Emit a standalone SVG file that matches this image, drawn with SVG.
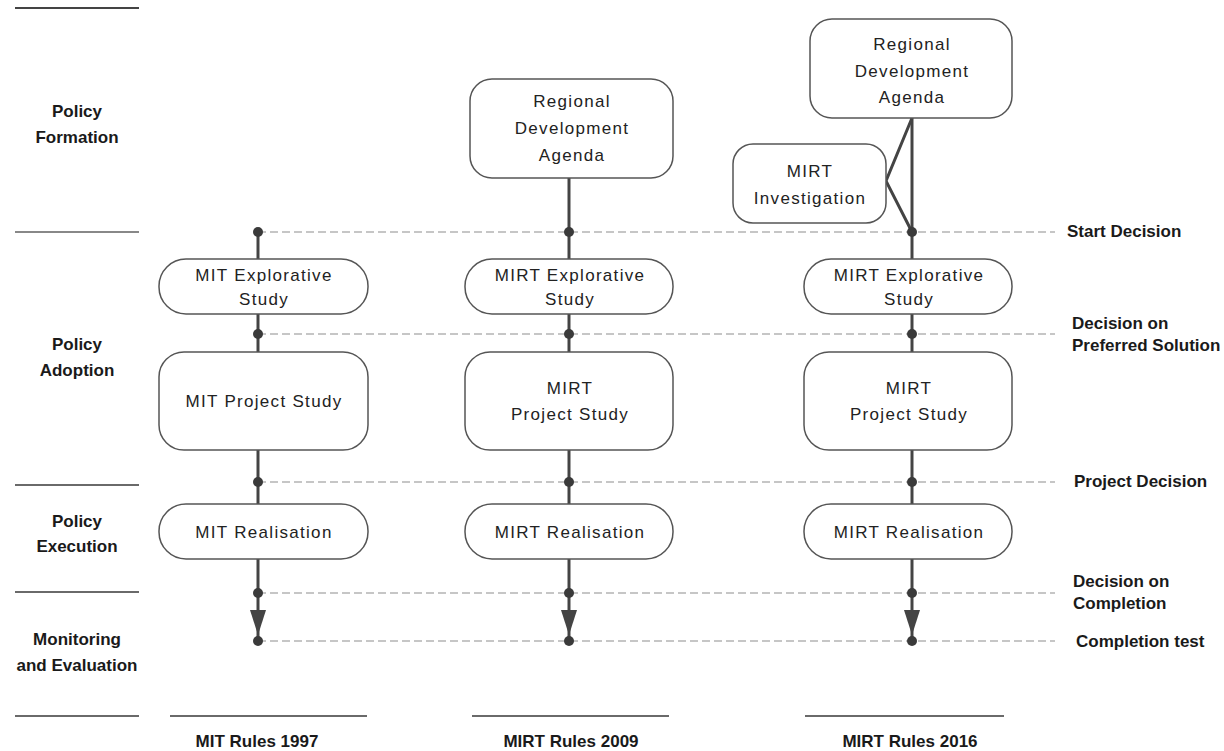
<svg xmlns="http://www.w3.org/2000/svg" width="1224" height="751" viewBox="0 0 1224 751">
<style>
.bg{fill:#fff}
.sep{stroke:#6a6a6a;stroke-width:2}
.dash{stroke:#b4b4b4;stroke-width:1.3;stroke-dasharray:8 4;fill:none}
.box{fill:#fff;stroke:#555;stroke-width:1.5}
.t{font-family:"Liberation Sans",Arial,sans-serif;font-size:17px;fill:#222;text-anchor:middle;letter-spacing:1.3px}
.b{font-family:"Liberation Sans",Arial,sans-serif;font-size:17px;font-weight:bold;fill:#1a1a1a}
.bc{text-anchor:middle}
.con{stroke:#444;stroke-width:3;fill:none}
.dot{fill:#3a3a3a}
</style>
<defs>
<marker id="arr" markerWidth="6" markerHeight="7" refX="5.5" refY="3.5" orient="auto" markerUnits="strokeWidth">
<path d="M0,0 L6,3.5 L0,7 Z" fill="#444"/>
</marker>
</defs>
<rect class="bg" x="0" y="0" width="1224" height="751"/>

<g id="lanes">
<line class="sep" x1="15" y1="8" x2="139" y2="8" style="stroke:#444"/>
<line class="sep" x1="15" y1="232" x2="139" y2="232" style="stroke:#888"/>
<line class="sep" x1="15" y1="485" x2="139" y2="485"/>
<line class="sep" x1="15" y1="592" x2="139" y2="592"/>
<line class="sep" x1="15" y1="716" x2="139" y2="716"/>
<text class="b bc" x="77" y="117">Policy</text>
<text class="b bc" x="77" y="143">Formation</text>
<text class="b bc" x="77" y="350">Policy</text>
<text class="b bc" x="77" y="376">Adoption</text>
<text class="b bc" x="77" y="527">Policy</text>
<text class="b bc" x="77" y="552">Execution</text>
<text class="b bc" x="77" y="645">Monitoring</text>
<text class="b bc" x="77" y="671">and Evaluation</text>
</g>

<g id="milestones">
<line class="dash" x1="258" y1="232" x2="1055" y2="232"/>
<line class="dash" x1="258" y1="334" x2="1055" y2="334"/>
<line class="dash" x1="258" y1="482" x2="1055" y2="482"/>
<line class="dash" x1="258" y1="593" x2="1055" y2="593"/>
<line class="dash" x1="258" y1="641" x2="1055" y2="641"/>
<text class="b" x="1067" y="237">Start Decision</text>
<text class="b" x="1072" y="329">Decision on</text>
<text class="b" x="1072" y="351">Preferred Solution</text>
<text class="b" x="1074" y="487">Project Decision</text>
<text class="b" x="1073" y="587">Decision on</text>
<text class="b" x="1073" y="609">Completion</text>
<text class="b" x="1076" y="647">Completion test</text>
</g>

<g id="connectors">
<!-- column 1 -->
<line class="con" x1="258" y1="232" x2="258" y2="259"/>
<line class="con" x1="258" y1="314" x2="258" y2="352"/>
<line class="con" x1="258" y1="450" x2="258" y2="505"/>
<line class="con" x1="258" y1="559" x2="258" y2="641"/>
<!-- column 2 -->
<line class="con" x1="569" y1="178" x2="569" y2="259"/>
<line class="con" x1="569" y1="314" x2="569" y2="352"/>
<line class="con" x1="569" y1="450" x2="569" y2="505"/>
<line class="con" x1="569" y1="559" x2="569" y2="641"/>
<!-- column 3 -->
<line class="con" x1="912" y1="118" x2="912" y2="259"/>
<polyline class="con" points="912,118 886,181 912,232"/>
<line class="con" x1="912" y1="314" x2="912" y2="352"/>
<line class="con" x1="912" y1="450" x2="912" y2="505"/>
<line class="con" x1="912" y1="559" x2="912" y2="641"/>
<!-- arrowheads -->
<path d="M250,610 L266,610 L258,635 Z" fill="#444"/>
<path d="M561,610 L577,610 L569,635 Z" fill="#444"/>
<path d="M904,610 L920,610 L912,635 Z" fill="#444"/>
<!-- dots -->
<circle class="dot" cx="258" cy="232" r="5"/>
<circle class="dot" cx="258" cy="334" r="5"/>
<circle class="dot" cx="258" cy="482" r="5"/>
<circle class="dot" cx="258" cy="593" r="5"/>
<circle class="dot" cx="258" cy="641" r="5"/>
<circle class="dot" cx="569" cy="232" r="5"/>
<circle class="dot" cx="569" cy="334" r="5"/>
<circle class="dot" cx="569" cy="482" r="5"/>
<circle class="dot" cx="569" cy="593" r="5"/>
<circle class="dot" cx="569" cy="641" r="5"/>
<circle class="dot" cx="912" cy="232" r="5"/>
<circle class="dot" cx="912" cy="334" r="5"/>
<circle class="dot" cx="912" cy="482" r="5"/>
<circle class="dot" cx="912" cy="593" r="5"/>
<circle class="dot" cx="912" cy="641" r="5"/>
</g>

<g id="col1-explorative">
<rect class="box" x="159" y="259" width="209" height="55" rx="27"/>
<text class="t" x="264" y="281">MIT Explorative</text>
<text class="t" x="264" y="305">Study</text>
</g>
<g id="col1-project">
<rect class="box" x="159" y="352" width="209" height="98" rx="25"/>
<text class="t" x="264" y="407">MIT Project Study</text>
</g>
<g id="col1-realisation">
<rect class="box" x="159" y="504" width="209" height="55" rx="27"/>
<text class="t" x="264" y="538">MIT Realisation</text>
</g>

<g id="col2-agenda">
<rect class="box" x="470" y="79" width="203" height="99" rx="22"/>
<text class="t" x="572" y="107">Regional</text>
<text class="t" x="572" y="134">Development</text>
<text class="t" x="572" y="161">Agenda</text>
</g>
<g id="col2-explorative">
<rect class="box" x="465" y="259" width="208" height="55" rx="27"/>
<text class="t" x="570" y="281">MIRT Explorative</text>
<text class="t" x="570" y="305">Study</text>
</g>
<g id="col2-project">
<rect class="box" x="465" y="352" width="208" height="98" rx="25"/>
<text class="t" x="570" y="394">MIRT</text>
<text class="t" x="570" y="420">Project Study</text>
</g>
<g id="col2-realisation">
<rect class="box" x="465" y="504" width="208" height="55" rx="27"/>
<text class="t" x="570" y="538">MIRT Realisation</text>
</g>

<g id="col3-agenda">
<rect class="box" x="810" y="19" width="202" height="99" rx="22"/>
<text class="t" x="912" y="50">Regional</text>
<text class="t" x="912" y="77">Development</text>
<text class="t" x="912" y="103">Agenda</text>
</g>
<g id="col3-investigation">
<rect class="box" x="733" y="144" width="153" height="79" rx="20"/>
<text class="t" x="810" y="177">MIRT</text>
<text class="t" x="810" y="204">Investigation</text>
</g>
<g id="col3-explorative">
<rect class="box" x="804" y="259" width="208" height="55" rx="27"/>
<text class="t" x="909" y="281">MIRT Explorative</text>
<text class="t" x="909" y="305">Study</text>
</g>
<g id="col3-project">
<rect class="box" x="804" y="352" width="208" height="98" rx="25"/>
<text class="t" x="909" y="394">MIRT</text>
<text class="t" x="909" y="420">Project Study</text>
</g>
<g id="col3-realisation">
<rect class="box" x="804" y="504" width="208" height="55" rx="27"/>
<text class="t" x="909" y="538">MIRT Realisation</text>
</g>

<g id="footers">
<line class="sep" x1="170" y1="716" x2="367" y2="716"/>
<line class="sep" x1="472" y1="716" x2="669" y2="716"/>
<line class="sep" x1="805" y1="716" x2="1004" y2="716"/>
<text class="b bc" x="257" y="747">MIT Rules 1997</text>
<text class="b bc" x="571" y="747">MIRT Rules 2009</text>
<text class="b bc" x="910" y="747">MIRT Rules 2016</text>
</g>
</svg>
